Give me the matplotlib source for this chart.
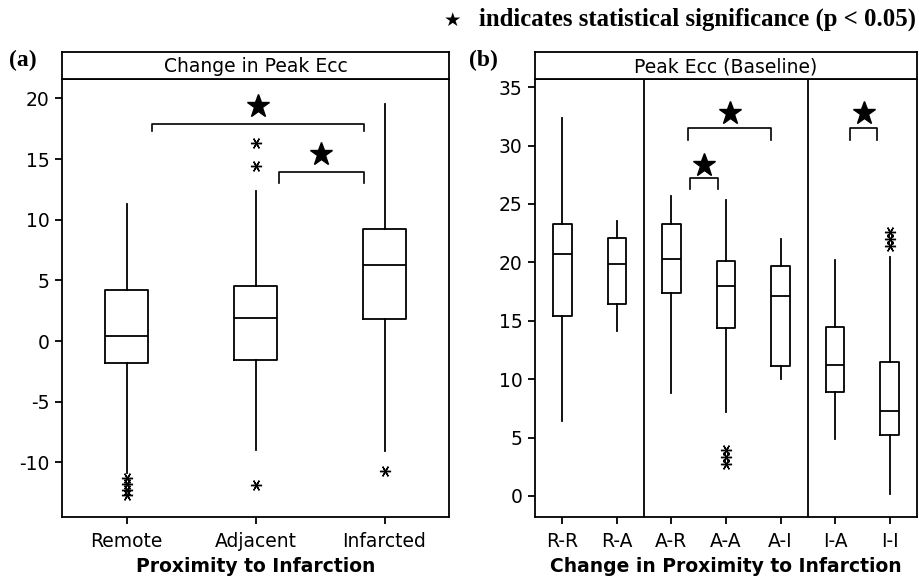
import matplotlib
matplotlib.use("Agg")
import matplotlib.pyplot as plt

plt.rcParams["axes.unicode_minus"] = False

# panel (a): change in peak Ecc by proximity
a_labels   = ["Remote", "Adjacent", "Infarcted"]
a_q1       = [-1.8, -1.6, 1.8]
a_med      = [0.4, 1.9, 6.3]
a_q3       = [4.25, 4.55, 9.2]
a_wlo      = [-10.9, -9.0, -9.1]
a_whi      = [11.3, 12.4, 19.5]
a_fliers   = [[-11.3, -11.8, -12.3, -12.7], [16.3, 14.4, -11.9], [-10.7]]

# panel (b): baseline peak Ecc by change in proximity
b_labels   = ["R-R", "R-A", "A-R", "A-A", "A-I", "I-A", "I-I"]
b_q1       = [15.4, 16.45, 17.4, 14.4, 11.1, 8.9, 5.25]
b_med      = [20.7, 19.9, 20.3, 18.0, 17.15, 11.2, 7.25]
b_q3       = [23.25, 22.1, 23.25, 20.1, 19.7, 14.45, 11.45]
b_wlo      = [6.45, 14.1, 8.85, 7.15, 10.0, 4.9, 0.2]
b_whi      = [32.4, 23.55, 25.7, 25.3, 22.0, 20.2, 20.45]
b_fliers   = [[], [], [], [3.9, 3.3, 2.7], [], [], [22.6, 22.0, 21.4]]
b_groups   = [2.5, 5.5]

# significance brackets: (x_left, x_right, y_top, drop, star_y)
a_brackets = [(1.2, 2.84, 17.9, 0.6, 19.4), (2.18, 2.84, 13.9, 0.9, 15.4)]
b_brackets = [(3.34, 3.85, 27.2, 0.9, 28.3), (3.31, 4.83, 31.5, 1.0, 32.8),
              (6.28, 6.76, 31.5, 1.0, 32.8)]

W, H = 919, 583
fig = plt.figure(figsize=(W / 100, H / 100), dpi=100)
lw = 1.3
tick_fs = 13.5
label_fs = 13.5


def make_stats(labels, q1, med, q3, wlo, whi, fliers):
    return [dict(label=l, q1=a, med=m, q3=b, whislo=lo, whishi=hi, fliers=f)
            for l, a, m, b, lo, hi, f in zip(labels, q1, med, q3, wlo, whi, fliers)]


def panel(px, width, ylim, yticks, stats, title, xlabel, brackets, tag, seps=()):
    bottom = 1 - 517 / H
    top = 1 - 79 / H
    ax = fig.add_axes([px / W, bottom, width / W, top - bottom])
    n = len(stats)
    ax.bxp(stats, positions=range(1, n + 1), widths=0.34, showcaps=False,
           boxprops=dict(color="black", linewidth=lw),
           medianprops=dict(color="black", linewidth=lw),
           whiskerprops=dict(color="black", linewidth=lw),
           flierprops=dict(marker=(6, 2, 90), markersize=8, markeredgecolor="black",
                           markeredgewidth=1.0, linestyle="none"))
    ax.set_xlim(0.5, n + 0.5)
    ax.set_ylim(*ylim)
    ax.set_yticks(yticks)
    ax.set_xticks(range(1, n + 1))
    ax.set_xticklabels([s["label"] for s in stats])
    for s in ax.spines.values():
        s.set_linewidth(lw)
    ax.tick_params(direction="out", length=5, width=lw, labelsize=tick_fs, pad=4)
    ax.tick_params(axis="x", pad=6)
    ax.set_xlabel(xlabel, fontsize=label_fs, fontweight="bold", labelpad=4)
    for x in seps:
        ax.axvline(x, color="black", linewidth=lw)
    for x0, x1, y, d, sy in brackets:
        ax.plot([x0, x0, x1, x1], [y - d, y, y, y - d], color="black", linewidth=1.2,
                solid_joinstyle="round")
        ax.plot((x0 + x1) / 2, sy, marker="*", markersize=17, color="black")

    # strip header
    sax = fig.add_axes([px / W, top, width / W, 27 / H])
    sax.set_xticks([])
    sax.set_yticks([])
    for s in sax.spines.values():
        s.set_linewidth(lw)
    sax.text(0.5, 0.45, title, ha="center", va="center", fontsize=13.5,
             transform=sax.transAxes)
    fig.text(tag / W, 1 - 60 / H, "(a)" if px < 300 else "(b)", fontsize=17,
             fontweight="bold", family="Liberation Serif", ha="left", va="center")
    return ax


panel(62, 387, (-14.5, 21.6), range(-10, 21, 5),
      make_stats(a_labels, a_q1, a_med, a_q3, a_wlo, a_whi, a_fliers),
      "Change in Peak Ecc", "Proximity to Infarction", a_brackets, 9)
panel(535, 382, (-1.8, 35.7), range(0, 36, 5),
      make_stats(b_labels, b_q1, b_med, b_q3, b_wlo, b_whi, b_fliers),
      "Peak Ecc (Baseline)", "Change in Proximity to Infarction", b_brackets, 469,
      seps=b_groups)

fig.text(452 / W, 1 - 20 / H, "\u2605", fontsize=14, ha="center", va="center",
         family="DejaVu Sans")
fig.text(479 / W, 1 - 19 / H, "indicates statistical significance (p < 0.05)",
         fontsize=17.8, fontweight="bold", family="Liberation Serif",
         ha="left", va="center")

fig.savefig("out.png", dpi=100)
